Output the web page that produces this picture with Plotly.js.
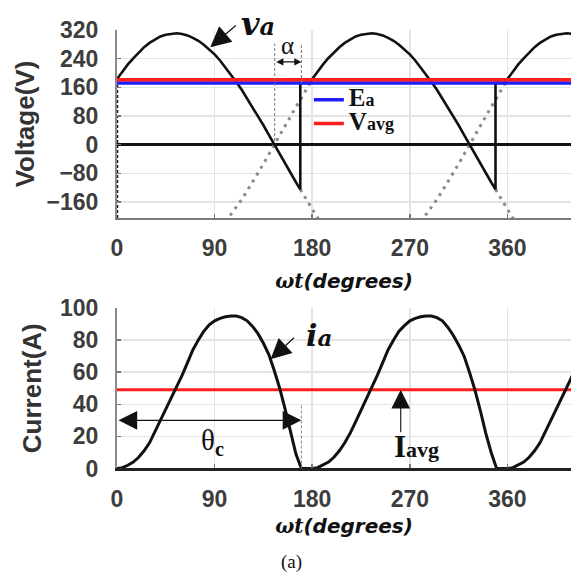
<!DOCTYPE html>
<html>
<head>
<meta charset="utf-8">
<script src="https://cdn.plot.ly/plotly-3.0.1.min.js"></script>
<style>html,body{margin:0;padding:0;background:#fff;}#chart{width:571px;height:573px;}</style>
</head>
<body>
<div id="chart"></div>
<script>
// ---------- data ----------
// top panel: load voltage v_a (V) vs wt (degrees)
var angleV = [0,5,10,15,20,25,30,35,40,45,50,55,60,65,70,75,80,85,90,95,100,105,110,115,120,125,130,135,140,145,150,155,160,165,169,169,175,177.5,
  180,185,190,195,200,205,210,215,220,225,230,235,240,245,250,255,260,265,270,275,280,285,290,295,300,305,310,315,320,325,330,335,340,345,349,349,355,357.5,
  360,365,370,375,380,385,390,395,400,405,410,415,420];
var voltV = [183,204,224,241,258,272,284,294,302,307,310,311,309,305,298,290,279,266,252,235,216,196,175,153,129,105,80,54,27,0,-27,-54,-80,-105,-125,172,172,172,
  183,204,224,242,258,272,284,294,302,307,310,311,309,305,298,290,279,266,252,235,216,196,175,153,129,105,80,54,27,0,-27,-54,-80,-105,-125,172,172,172,
  183,204,224,241,258,272,284,294,302,307,310,311,309];
// dotted: mirrored supply half-wave (-v)
var angleMirror = [100,105,110,115,120,125,130,135,140,145,150,155,160,165,170,175,180,null,280,285,290,295,300,305,310,315,320,325,330,335,340,345,350,355,360];
var voltMirror  = [-216,-196,-175,-153,-129,-105,-80,-54,-27,0,27,54,80,105,130,155,183,null,-216,-196,-175,-153,-129,-105,-80,-54,-27,0,27,54,80,105,130,155,183];
// dotted: continuation of v after extinction
var angleCont = [169,175,180,186,null,349,355,360,366];
var voltCont  = [-125,-155,-183,-210,null,-125,-155,-183,-210];
// dotted jump at wt = 0
var angleStart = [0,0];
var voltStart  = [-205,172];
// constant levels
var Ea = 172;      // back emf (V)
var Vavg = 181;    // average load voltage (V)
var Iavg = 49;     // average current (A)
var angleSpan = [0,418.6];

// bottom panel: load current i_a (A)
var angleI = [0,5,10,15,20,25,30,35,40,45,50,55,60,65,70,75,80,85,90,95,100,105,110,115,120,125,130,135,140,145,150,155,160,165,170,175,180,
  185,190,195,200,205,210,215,220,225,230,235,240,245,250,255,260,265,270,275,280,285,290,295,300,305,310,315,320,325,330,335,340,345,350,355,360,
  365,370,375,380,385,390,395,400,405,410,415,420];
var currI = [0,0.5,2,4,7,11,16,23,30,36.5,43,50,58,66,74,80,85.5,89.5,92,93.5,94.5,95,95,94,92,88.5,84,78,71,61,50,37,23,9,0,0,0,
  0.5,2,4,7,11,16,22,29,36,43,50,58,66,74,80,85.5,89,92,93.5,94.5,95,95,94,92,88,83,77,70,60,49,36,22,10,0,0,0,
  0.5,2,4,7,11,16,23,30,36.5,43,50,58];

// key angles (annotations)
var zeroCross = 145.4;   // start of alpha
var extinction = 170;    // end of conduction

var xTicks = [0,90,180,270,360];
var vTicks = [-160,-80,0,80,160,240,320];
var iTicks = [0,20,40,60,80,100];

// ---------- styles ----------
var tickFont = {family:'Liberation Sans, Arial, sans-serif', size:23, weight:'bold', color:'#3d3d3d'};
var yTitleFont = {family:'Liberation Sans, Arial, sans-serif', size:26, weight:'bold', color:'#333'};
var xTitleFont = {family:'DejaVu Sans, Verdana, sans-serif', size:20, weight:'bold', style:'italic', color:'#111'};
var gray = '#8a8a8a';
var blue = '#1e1eff', red = '#ff1e1e';

function big(main, small, s1, s2){
  return '<b><span style="font-size:'+s1+'px">'+main+'</span><span style="font-size:'+s2+'px">'+small+'</span></b>';
}

var traces = [
  {x:angleStart, y:voltStart, xaxis:'x', yaxis:'y', mode:'lines', line:{color:'#111', width:2.5, dash:'3px,2px'}, showlegend:false, hoverinfo:'skip'},
  {x:angleMirror, y:voltMirror, xaxis:'x', yaxis:'y', mode:'lines', line:{color:gray, width:3, dash:'3px,5px'}, showlegend:false, connectgaps:false},
  {x:angleCont, y:voltCont, xaxis:'x', yaxis:'y', mode:'lines', line:{color:gray, width:3, dash:'3px,5px'}, showlegend:false, connectgaps:false},
  {x:angleV, y:voltV, xaxis:'x', yaxis:'y', mode:'lines', line:{color:'#111', width:2.6}, showlegend:false},
  {x:angleSpan, y:[Ea,Ea], xaxis:'x', yaxis:'y', mode:'lines', line:{color:blue, width:3.5}, name:big('E','a',25,18)},
  {x:angleSpan, y:[Vavg,Vavg], xaxis:'x', yaxis:'y', mode:'lines', line:{color:red, width:3.5}, name:big('V','avg',25,18)},
  {x:angleSpan, y:[Iavg,Iavg], xaxis:'x2', yaxis:'y2', mode:'lines', line:{color:red, width:3}, showlegend:false},
  {x:angleI, y:currI, xaxis:'x2', yaxis:'y2', mode:'lines', line:{color:'#111', width:3}, showlegend:false}
];

function xAxis(anchor, standoff){
  return {anchor:anchor, domain:[0,1], range:[0,418.6], tickvals:xTicks, ticktext:xTicks.map(String),
    showgrid:true, gridcolor:'#e4e4e4', gridwidth:1.5, zeroline:false,
    showline:true, linecolor:'#7a7a7a', linewidth:2, ticks:'inside', ticklen:4, tickcolor:'#777', tickwidth:1.5,
    tickfont:tickFont, ticklabelstandoff:8,
    title:{text:'<span style="font-family:DejaVu Serif">ωt</span>(degrees)', font:xTitleFont, standoff:standoff}};
}

var layout = {
  width:571, height:573,
  margin:{l:117, r:0, t:0, b:0},
  paper_bgcolor:'#fff', plot_bgcolor:'#fff',
  showlegend:true,
  legend:{x:0.4226, y:0.8555, xanchor:'left', yanchor:'top', bgcolor:'rgba(0,0,0,0)',
    font:{family:'Liberation Serif, Times New Roman, serif', size:16, color:'#111'}, tracegroupgap:0, itemwidth:30},
  xaxis: xAxis('y', 14),
  yaxis: {anchor:'x', domain:[0.6195,0.9476], range:[-205,320], tickvals:vTicks,
    showgrid:true, gridcolor:'#e4e4e4', gridwidth:1.5,
    zeroline:true, zerolinecolor:'#111', zerolinewidth:3,
    showline:true, linecolor:'#8a8a8a', linewidth:2, ticks:'inside', ticklen:4, tickcolor:'#777', tickwidth:1.5,
    tickfont:tickFont, ticklabelstandoff:12,
    title:{text:'Voltage(V)', font:yTitleFont, standoff:4}},
  xaxis2: Object.assign(xAxis('y2', 8), {linecolor:'#222', linewidth:3}),
  yaxis2: {anchor:'x2', domain:[0.1824,0.4625], range:[0,100], tickvals:iTicks,
    showgrid:true, gridcolor:'#e4e4e4', gridwidth:1.5, zeroline:false,
    showline:true, linecolor:'#8a8a8a', linewidth:2, ticks:'inside', ticklen:4, tickcolor:'#777', tickwidth:1.5,
    tickfont:tickFont, ticklabelstandoff:12,
    title:{text:'Current(A)', font:yTitleFont, standoff:11}},
  shapes:[
    {type:'line', xref:'x', yref:'y', x0:zeroCross, x1:zeroCross, y0:10, y1:282, line:{color:'#777', width:1, dash:'3px,2px'}},
    {type:'line', xref:'x', yref:'y', x0:extinction, x1:extinction, y0:Ea, y1:282, line:{color:'#777', width:1, dash:'3px,2px'}},
    {type:'line', xref:'x2', yref:'y2', x0:extinction, x1:extinction, y0:0, y1:40, line:{color:'#888', width:1, dash:'3px,2px'}}
  ],
  annotations:[
    // v_a label and arrow
    {xref:'paper', yref:'paper', x:(258-117)/454, y:1-24/573, xanchor:'center', yanchor:'middle',
      text:'<b><i><span style="font-size:32px">v</span><span style="font-size:24px">a</span></i></b>', showarrow:false,
      font:{family:'DejaVu Serif, serif', size:28, color:'#111'}},
    {xref:'x', yref:'y', x:86, y:272, text:'', showarrow:true, ax:27, ay:-23, arrowhead:2, arrowsize:3.4, arrowwidth:1.2, arrowcolor:'#111'},
    // alpha
    {xref:'x', yref:'y', x:157.5, y:276, text:'α', showarrow:false, font:{family:'Liberation Serif, serif', size:25, color:'#111'}},
    {xref:'x', yref:'y', x:extinction, y:231, ax:zeroCross, ay:231, axref:'x', ayref:'y', text:'', showarrow:true,
      arrowhead:2, startarrowhead:2, arrowside:'end+start', arrowsize:1.1, arrowwidth:1.3, arrowcolor:'#111'},
    // i_a label and arrow
    {xref:'x2', yref:'y2', x:186, y:83, text:'<b><i><span style="font-size:30px">i</span><span style="font-size:23px">a</span></i></b>', showarrow:false,
      font:{family:'DejaVu Serif, serif', size:28, color:'#111'}},
    {xref:'x2', yref:'y2', x:141.6, y:68, text:'', showarrow:true, ax:25, ay:-23, arrowhead:2, arrowsize:3.4, arrowwidth:1.2, arrowcolor:'#111'},
    // theta_c
    {xref:'x2', yref:'y2', x:88, y:16.5, text:'θ<sub><b>c</b></sub>', showarrow:false, font:{family:'Liberation Serif, serif', size:29, color:'#111'}},
    {xref:'x2', yref:'y2', x:extinction, y:30, ax:0, ay:30, axref:'x2', ayref:'y2', text:'', showarrow:true,
      arrowhead:2, startarrowhead:2, arrowside:'end+start', arrowsize:3.4, arrowwidth:1.1, arrowcolor:'#111'},
    // I_avg
    {xref:'x2', yref:'y2', x:276.5, y:14, text:big('I','avg',31,22), showarrow:false, font:{family:'Liberation Serif, serif', size:28, color:'#111'}},
    {xref:'x2', yref:'y2', x:261.6, y:Iavg, text:'', showarrow:true, ax:0, ay:44, arrowhead:2, arrowsize:3.4, arrowwidth:1.1, arrowcolor:'#111'},
    // caption
    {xref:'paper', yref:'paper', x:(291-117)/454, y:1-562/573, text:'(a)', showarrow:false, xanchor:'center', yanchor:'middle',
      font:{family:'Liberation Serif, Times New Roman, serif', size:19, color:'#111'}}
  ]
};

Plotly.newPlot('chart', traces, layout, {displayModeBar:false, staticPlot:true});
</script>
</body>
</html>
